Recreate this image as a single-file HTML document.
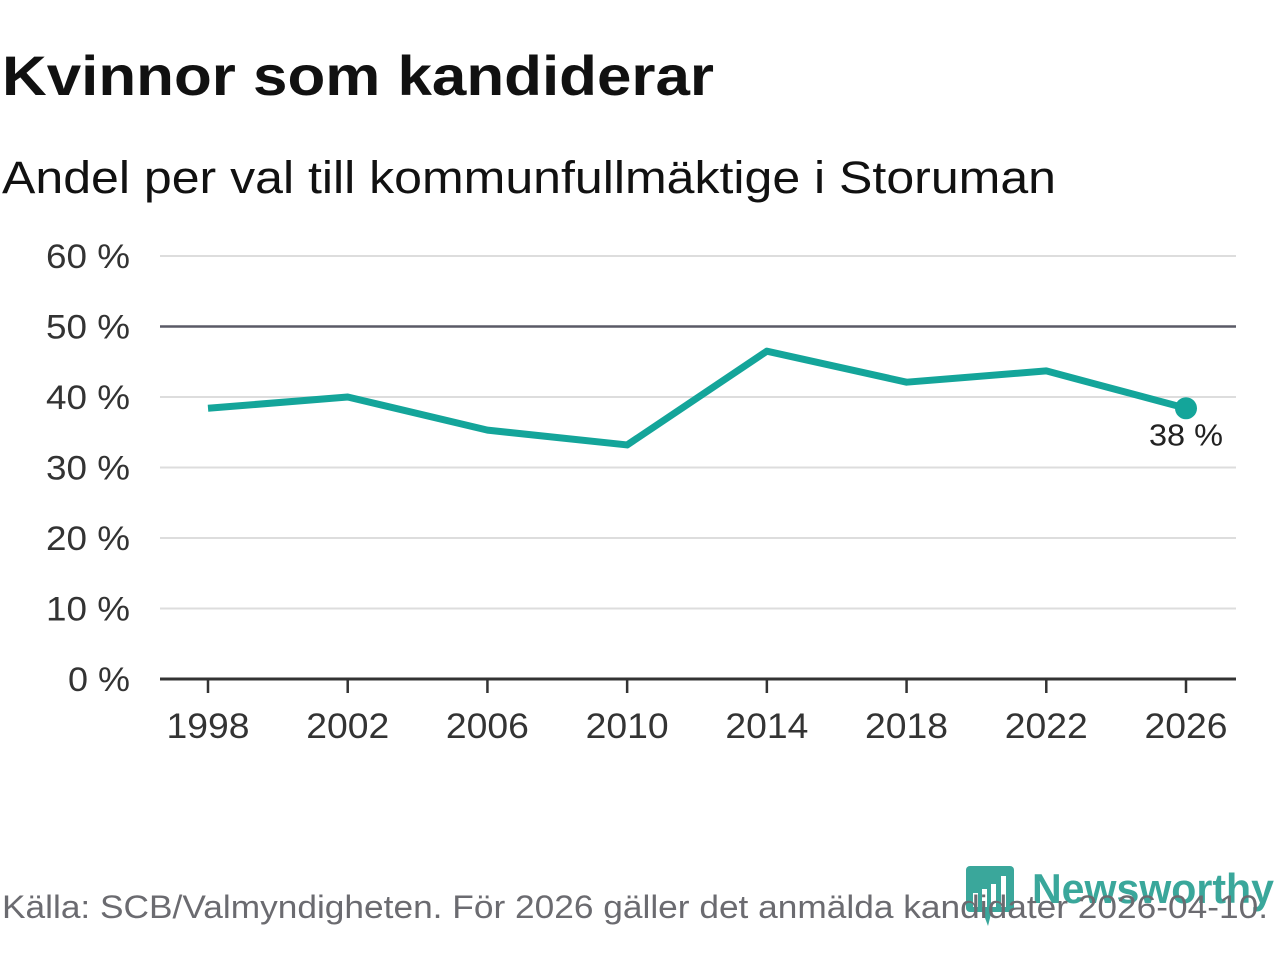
<!DOCTYPE html>
<html><head><meta charset="utf-8">
<style>
body{margin:0;background:#fff;width:1280px;height:960px;overflow:hidden;font-family:"Liberation Sans",sans-serif;}
</style></head>
<body>
<svg width="1280" height="960" style="position:absolute;left:0;top:0">
<text x="2" y="95" font-size="56" font-weight="bold" fill="#111" textLength="712" lengthAdjust="spacingAndGlyphs">Kvinnor som kandiderar</text>
<text x="2" y="193" font-size="45" fill="#111" textLength="1054" lengthAdjust="spacingAndGlyphs">Andel per val till kommunfullmäktige i Storuman</text>
<g id="grid"></g>
<g id="xaxis"></g>
<g id="series"></g>
<g>
<rect x="966" y="866" width="48" height="46" rx="4" fill="#3aa79b"/>
<polygon points="982,910 992,910 988,926" fill="#3aa79b"/>
<rect x="973" y="893" width="5" height="14" fill="#fff"/><rect x="982" y="889" width="5" height="18" fill="#fff"/><rect x="991" y="884" width="5" height="23" fill="#fff"/><rect x="1001" y="876" width="5" height="31" fill="#fff"/>
<text x="1032" y="903" font-size="42" font-weight="bold" fill="#3aa79b" textLength="242" lengthAdjust="spacingAndGlyphs">Newsworthy</text>
</g>
<text x="2" y="918" font-size="32" fill="#6b6b70" textLength="1266" lengthAdjust="spacingAndGlyphs">Källa: SCB/Valmyndigheten. För 2026 gäller det anmälda kandidater 2026-04-10.</text>
</svg>
<script>
const years=[1998,2002,2006,2010,2014,2018,2022,2026];
const values=[38.4,40.0,35.3,33.2,46.5,42.1,43.7,38.4];
const yTicks=[0,10,20,30,40,50,60];
const ns="http://www.w3.org/2000/svg";
const xs=y=>208+(y-1998)/28*978;
const ys=v=>679-v*7.05;
function mk(tag,attrs,parent){const e=document.createElementNS(ns,tag);for(const k in attrs)e.setAttribute(k,attrs[k]);document.getElementById(parent).appendChild(e);return e;}
yTicks.forEach(t=>{
  if(t>0&&t!==50){const l=mk('line',{x1:160,x2:1236,y1:ys(t),y2:ys(t),stroke:'#dddddd','stroke-width':2},'grid');
  
  }
  const tx=mk('text',{x:130,y:ys(t)+12,'font-size':34,'text-anchor':'end',fill:'#333',textLength:(t===0?62:84),lengthAdjust:'spacingAndGlyphs'},'grid');
  tx.textContent=t+' %';
  
  
});
const ref=mk('line',{x1:160,x2:1236,y1:ys(50),y2:ys(50),stroke:'#5a5a66','stroke-width':2.5},'grid');


const ax=mk('line',{x1:160,x2:1236,y1:679,y2:679,stroke:'#333','stroke-width':3},'xaxis');


years.forEach(y=>{
  const tk=mk('line',{x1:xs(y),x2:xs(y),y1:679,y2:693,stroke:'#333','stroke-width':2.5},'xaxis');
  
  
  const tx=mk('text',{x:xs(y),y:738,'font-size':35,'text-anchor':'middle',fill:'#333',textLength:83,lengthAdjust:'spacingAndGlyphs'},'xaxis');
  tx.textContent=y;
  
  
});
const pl=mk('polyline',{points:years.map((y,i)=>xs(y)+','+ys(values[i])).join(' '),fill:'none',stroke:'#14a59a','stroke-width':7,'stroke-linejoin':'round'},'series');


const n=years.length-1;
const dot=mk('circle',{cx:xs(years[n]),cy:ys(values[n]),r:11,fill:'#14a59a'},'series');


const lb=mk('text',{x:xs(years[n]),y:ys(values[n])+37,'font-size':31,'text-anchor':'middle',fill:'#222',textLength:74,lengthAdjust:'spacingAndGlyphs'},'series');
lb.textContent=Math.round(values[n])+' %';


</script>
</body></html>
